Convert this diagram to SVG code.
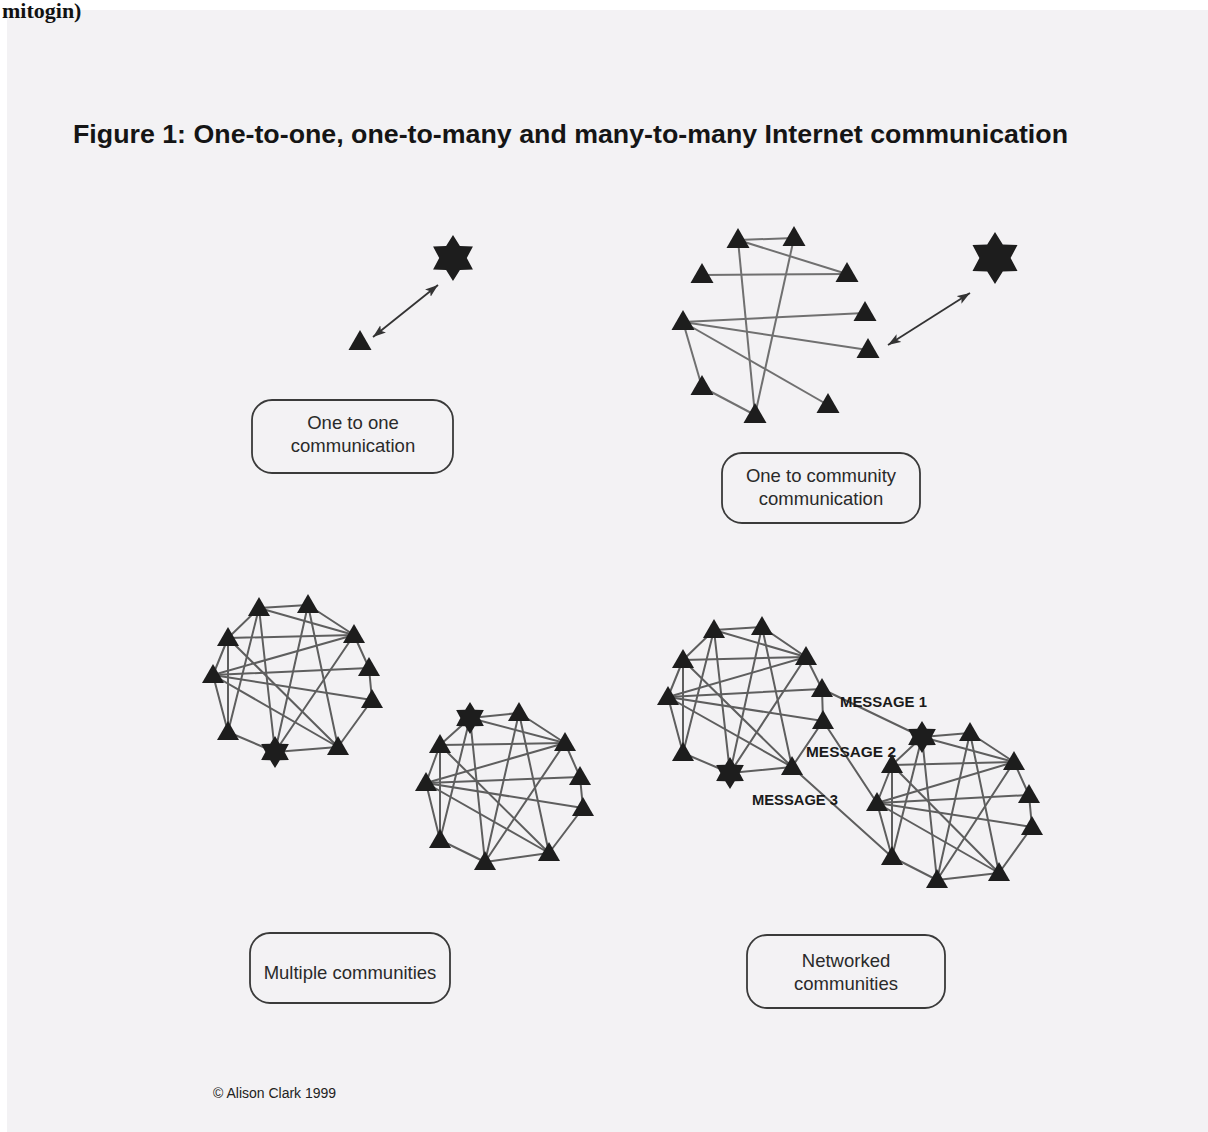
<svg xmlns="http://www.w3.org/2000/svg" xmlns:xlink="http://www.w3.org/1999/xlink" width="1208" height="1132" viewBox="0 0 1208 1132">
<style>
.edge{stroke:#5e5e5e;stroke-width:2;fill:none;stroke-linecap:round}
.edge2{stroke:#707070;stroke-width:2;fill:none}
.arr{stroke:#333;stroke-width:1.8;fill:none}
.node{fill:#1d1d1d}
.box{fill:none;stroke:#3a3a3a;stroke-width:1.8}
.lbl{font-family:"Liberation Sans",Arial,sans-serif;font-size:18.5px;fill:#2a2a2a;text-anchor:middle}
.msg{font-family:"Liberation Sans",Arial,sans-serif;font-size:14px;font-weight:bold;fill:#1a1a1a}
</style>
<defs>
<polygon id="tri" points="0,-11 11,8 -11,8"/>
<polygon id="triL" points="0,-12 11.5,8 -11.5,8"/>
<polygon id="star" points="0,-10 3,-5.2 8.66,-5 6,0 8.66,5 3,5.2 0,10 -3,5.2 -8.66,5 -6,0 -8.66,-5 -3,-5.2"/>
<marker id="ah" markerUnits="userSpaceOnUse" markerWidth="14" markerHeight="10" refX="13" refY="5" orient="auto-start-reverse">
<path d="M0,0.5 L13,5 L0,9.5 L3,5 z" fill="#333"/>
</marker>
</defs>
<rect x="0" y="0" width="1208" height="1132" fill="#ffffff"/>
<rect x="7" y="10" width="1201" height="1122" fill="#f3f2f4"/>
<text x="2" y="18" font-family="'Liberation Serif',serif" font-size="22" font-weight="bold" fill="#111">mitogin)</text>
<text x="73" y="143" font-family="'Liberation Sans',Arial,sans-serif" font-size="26" font-weight="bold" fill="#151515" textLength="995" lengthAdjust="spacingAndGlyphs">Figure 1: One-to-one, one-to-many and many-to-many Internet communication</text>

<g id="connectors">
<line class="arr" x1="373" y1="337" x2="438" y2="285" marker-start="url(#ah)" marker-end="url(#ah)"/>
<line class="arr" x1="888" y1="345" x2="970" y2="293" marker-start="url(#ah)" marker-end="url(#ah)"/>
<g class="edge2">
<line x1="738" y1="240" x2="794" y2="238"/>
<line x1="738" y1="240" x2="847" y2="274"/>
<line x1="702" y1="275" x2="847" y2="274"/>
<line x1="683" y1="322" x2="865" y2="313"/>
<line x1="683" y1="322" x2="868" y2="350"/>
<line x1="683" y1="322" x2="828" y2="405"/>
<line x1="683" y1="322" x2="702" y2="387"/>
<line x1="702" y1="387" x2="755" y2="415"/>
<line x1="755" y1="415" x2="738" y2="240"/>
<line x1="755" y1="415" x2="794" y2="238"/>
</g>
<g class="edge">
<line x1="259" y1="608" x2="308" y2="605"/>
<line x1="259" y1="608" x2="354" y2="635"/>
<line x1="308" y1="605" x2="354" y2="635"/>
<line x1="228" y1="638" x2="354" y2="635"/>
<line x1="213" y1="675" x2="354" y2="635"/>
<line x1="213" y1="675" x2="369" y2="668"/>
<line x1="213" y1="675" x2="372" y2="700"/>
<line x1="213" y1="675" x2="338" y2="747"/>
<line x1="228" y1="638" x2="338" y2="747"/>
<line x1="228" y1="638" x2="228" y2="732"/>
<line x1="213" y1="675" x2="228" y2="732"/>
<line x1="228" y1="732" x2="275" y2="752"/>
<line x1="275" y1="752" x2="338" y2="747"/>
<line x1="338" y1="747" x2="372" y2="700"/>
<line x1="369" y1="668" x2="372" y2="700"/>
<line x1="354" y1="635" x2="369" y2="668"/>
<line x1="259" y1="608" x2="275" y2="752"/>
<line x1="259" y1="608" x2="228" y2="732"/>
<line x1="308" y1="605" x2="275" y2="752"/>
<line x1="308" y1="605" x2="338" y2="747"/>
<line x1="354" y1="635" x2="275" y2="752"/>
<line x1="228" y1="638" x2="259" y2="608"/>
<line x1="228" y1="638" x2="213" y2="675"/>

<line x1="470" y1="718" x2="519" y2="713"/>
<line x1="470" y1="718" x2="565" y2="743"/>
<line x1="519" y1="713" x2="565" y2="743"/>
<line x1="440" y1="745" x2="565" y2="743"/>
<line x1="426" y1="783" x2="565" y2="743"/>
<line x1="426" y1="783" x2="580" y2="777"/>
<line x1="426" y1="783" x2="583" y2="808"/>
<line x1="426" y1="783" x2="549" y2="853"/>
<line x1="440" y1="745" x2="549" y2="853"/>
<line x1="440" y1="745" x2="440" y2="840"/>
<line x1="426" y1="783" x2="440" y2="840"/>
<line x1="440" y1="840" x2="485" y2="862"/>
<line x1="485" y1="862" x2="549" y2="853"/>
<line x1="549" y1="853" x2="583" y2="808"/>
<line x1="580" y1="777" x2="583" y2="808"/>
<line x1="565" y1="743" x2="580" y2="777"/>
<line x1="470" y1="718" x2="485" y2="862"/>
<line x1="470" y1="718" x2="440" y2="840"/>
<line x1="519" y1="713" x2="485" y2="862"/>
<line x1="519" y1="713" x2="549" y2="853"/>
<line x1="565" y1="743" x2="485" y2="862"/>
<line x1="440" y1="745" x2="470" y2="718"/>
<line x1="440" y1="745" x2="426" y2="783"/>

<line x1="714" y1="630" x2="762" y2="627"/>
<line x1="714" y1="630" x2="806" y2="657"/>
<line x1="762" y1="627" x2="806" y2="657"/>
<line x1="683" y1="660" x2="806" y2="657"/>
<line x1="668" y1="697" x2="806" y2="657"/>
<line x1="668" y1="697" x2="822" y2="689"/>
<line x1="668" y1="697" x2="823" y2="721"/>
<line x1="668" y1="697" x2="792" y2="767"/>
<line x1="683" y1="660" x2="792" y2="767"/>
<line x1="683" y1="660" x2="683" y2="753"/>
<line x1="668" y1="697" x2="683" y2="753"/>
<line x1="683" y1="753" x2="730" y2="773"/>
<line x1="730" y1="773" x2="792" y2="767"/>
<line x1="792" y1="767" x2="823" y2="721"/>
<line x1="822" y1="689" x2="823" y2="721"/>
<line x1="806" y1="657" x2="822" y2="689"/>
<line x1="714" y1="630" x2="730" y2="773"/>
<line x1="714" y1="630" x2="683" y2="753"/>
<line x1="762" y1="627" x2="730" y2="773"/>
<line x1="762" y1="627" x2="792" y2="767"/>
<line x1="806" y1="657" x2="730" y2="773"/>
<line x1="683" y1="660" x2="714" y2="630"/>
<line x1="683" y1="660" x2="668" y2="697"/>

<line x1="922" y1="737" x2="970" y2="733"/>
<line x1="922" y1="737" x2="1014" y2="762"/>
<line x1="970" y1="733" x2="1014" y2="762"/>
<line x1="892" y1="765" x2="1014" y2="762"/>
<line x1="877" y1="803" x2="1014" y2="762"/>
<line x1="877" y1="803" x2="1029" y2="795"/>
<line x1="877" y1="803" x2="1032" y2="827"/>
<line x1="877" y1="803" x2="999" y2="873"/>
<line x1="892" y1="765" x2="999" y2="873"/>
<line x1="892" y1="765" x2="892" y2="857"/>
<line x1="877" y1="803" x2="892" y2="857"/>
<line x1="892" y1="857" x2="937" y2="880"/>
<line x1="937" y1="880" x2="999" y2="873"/>
<line x1="999" y1="873" x2="1032" y2="827"/>
<line x1="1029" y1="795" x2="1032" y2="827"/>
<line x1="1014" y1="762" x2="1029" y2="795"/>
<line x1="922" y1="737" x2="937" y2="880"/>
<line x1="922" y1="737" x2="892" y2="857"/>
<line x1="970" y1="733" x2="937" y2="880"/>
<line x1="970" y1="733" x2="999" y2="873"/>
<line x1="1014" y1="762" x2="937" y2="880"/>
<line x1="892" y1="765" x2="922" y2="737"/>
<line x1="892" y1="765" x2="877" y2="803"/>

<line x1="822" y1="689" x2="922" y2="737"/>
<line x1="823" y1="721" x2="877" y2="803"/>
<line x1="792" y1="767" x2="892" y2="857"/>
</g>
</g>

<g id="p1-star" class="node"><use href="#star" transform="translate(453,258) scale(2.3)"/></g>
<g id="p1-tri" class="node"><use href="#triL" x="360" y="342"/></g>
<g id="box-one-to-one">
<rect class="box" x="252" y="400" width="201" height="73" rx="20"/>
<text class="lbl" x="353" y="429">One to one</text>
<text class="lbl" x="353" y="452">communication</text>
</g>

<g id="p2-star" class="node"><use href="#star" transform="translate(995,258) scale(2.6)"/></g>
<g id="p2-t1" class="node"><use href="#triL" x="738" y="240"/></g>
<g id="p2-t2" class="node"><use href="#triL" x="794" y="238"/></g>
<g id="p2-t3" class="node"><use href="#triL" x="702" y="275"/></g>
<g id="p2-t4" class="node"><use href="#triL" x="847" y="274"/></g>
<g id="p2-t5" class="node"><use href="#triL" x="683" y="322"/></g>
<g id="p2-t6" class="node"><use href="#triL" x="865" y="313"/></g>
<g id="p2-t7" class="node"><use href="#triL" x="868" y="350"/></g>
<g id="p2-t8" class="node"><use href="#triL" x="702" y="387"/></g>
<g id="p2-t9" class="node"><use href="#triL" x="828" y="405"/></g>
<g id="p2-t10" class="node"><use href="#triL" x="755" y="415"/></g>
<g id="box-one-to-community">
<rect class="box" x="722" y="453" width="198" height="70" rx="20"/>
<text class="lbl" x="821" y="482">One to community</text>
<text class="lbl" x="821" y="505">communication</text>
</g>

<g id="a1" class="node"><use href="#tri" x="259" y="608"/></g>
<g id="a2" class="node"><use href="#tri" x="308" y="605"/></g>
<g id="a3" class="node"><use href="#tri" x="228" y="638"/></g>
<g id="a4" class="node"><use href="#tri" x="354" y="635"/></g>
<g id="a5" class="node"><use href="#tri" x="213" y="675"/></g>
<g id="a6" class="node"><use href="#tri" x="369" y="668"/></g>
<g id="a7" class="node"><use href="#tri" x="372" y="700"/></g>
<g id="a8" class="node"><use href="#tri" x="228" y="732"/></g>
<g id="a9" class="node"><use href="#star" transform="translate(275,752) scale(1.6)"/></g>
<g id="a10" class="node"><use href="#tri" x="338" y="747"/></g>

<g id="b1" class="node"><use href="#star" transform="translate(470,718) scale(1.6)"/></g>
<g id="b2" class="node"><use href="#tri" x="519" y="713"/></g>
<g id="b3" class="node"><use href="#tri" x="440" y="745"/></g>
<g id="b4" class="node"><use href="#tri" x="565" y="743"/></g>
<g id="b5" class="node"><use href="#tri" x="426" y="783"/></g>
<g id="b6" class="node"><use href="#tri" x="580" y="777"/></g>
<g id="b7" class="node"><use href="#tri" x="583" y="808"/></g>
<g id="b8" class="node"><use href="#tri" x="440" y="840"/></g>
<g id="b9" class="node"><use href="#tri" x="485" y="862"/></g>
<g id="b10" class="node"><use href="#tri" x="549" y="853"/></g>

<g id="box-multiple">
<rect class="box" x="250" y="933" width="200" height="70" rx="20"/>
<text class="lbl" x="350" y="979">Multiple communities</text>
</g>

<g id="c1" class="node"><use href="#tri" x="714" y="630"/></g>
<g id="c2" class="node"><use href="#tri" x="762" y="627"/></g>
<g id="c3" class="node"><use href="#tri" x="683" y="660"/></g>
<g id="c4" class="node"><use href="#tri" x="806" y="657"/></g>
<g id="c5" class="node"><use href="#tri" x="668" y="697"/></g>
<g id="c6" class="node"><use href="#tri" x="822" y="689"/></g>
<g id="c7" class="node"><use href="#tri" x="823" y="721"/></g>
<g id="c8" class="node"><use href="#tri" x="683" y="753"/></g>
<g id="c9" class="node"><use href="#star" transform="translate(730,773) scale(1.6)"/></g>
<g id="c10" class="node"><use href="#tri" x="792" y="767"/></g>

<g id="d1" class="node"><use href="#star" transform="translate(922,737) scale(1.6)"/></g>
<g id="d2" class="node"><use href="#tri" x="970" y="733"/></g>
<g id="d3" class="node"><use href="#tri" x="892" y="765"/></g>
<g id="d4" class="node"><use href="#tri" x="1014" y="762"/></g>
<g id="d5" class="node"><use href="#tri" x="877" y="803"/></g>
<g id="d6" class="node"><use href="#tri" x="1029" y="795"/></g>
<g id="d7" class="node"><use href="#tri" x="1032" y="827"/></g>
<g id="d8" class="node"><use href="#tri" x="892" y="857"/></g>
<g id="d9" class="node"><use href="#tri" x="937" y="880"/></g>
<g id="d10" class="node"><use href="#tri" x="999" y="873"/></g>

<g id="messages">
<text class="msg" x="840" y="707" textLength="87" lengthAdjust="spacingAndGlyphs">MESSAGE 1</text>
<text class="msg" x="806" y="757" textLength="90" lengthAdjust="spacingAndGlyphs">MESSAGE 2</text>
<text class="msg" x="752" y="805" textLength="86" lengthAdjust="spacingAndGlyphs">MESSAGE 3</text>
</g>

<g id="box-networked">
<rect class="box" x="747" y="935" width="198" height="73" rx="20"/>
<text class="lbl" x="846" y="967">Networked</text>
<text class="lbl" x="846" y="990">communities</text>
</g>

<text x="213" y="1098" font-family="'Liberation Sans',Arial,sans-serif" font-size="14" fill="#222">© Alison Clark 1999</text>
</svg>
